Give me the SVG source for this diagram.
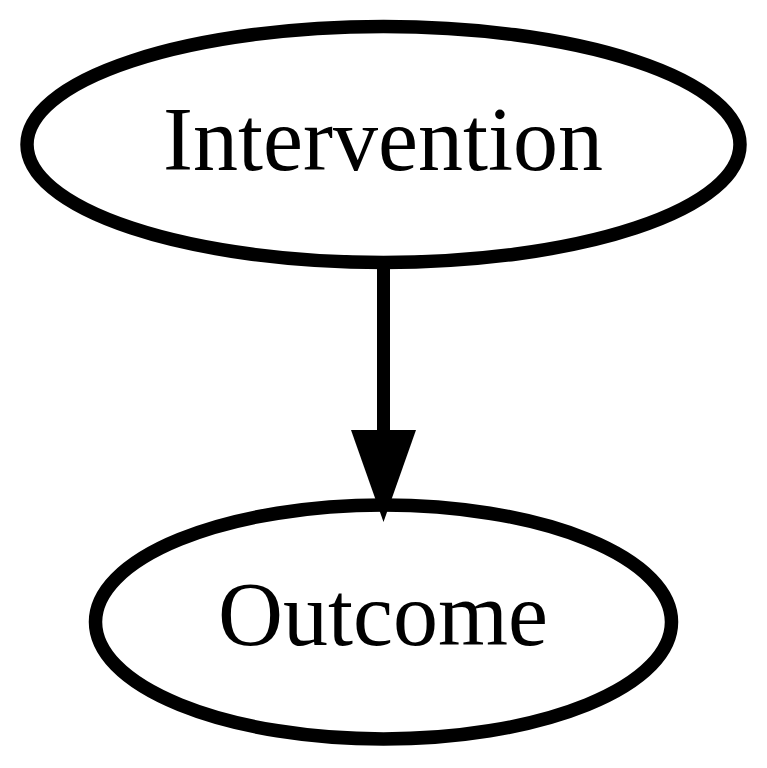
<svg xmlns="http://www.w3.org/2000/svg" width="767" height="768" viewBox="0 0 767 768">
<style>
.node ellipse{fill:none;stroke:#000;stroke-width:13.5}
.node text{font-family:"Liberation Serif","Times New Roman",serif;font-size:90px;text-anchor:middle;fill:#000}
.edge line{stroke:#000;stroke-width:13}
.edge polygon{fill:#000;stroke:none}
</style>
<rect width="767" height="768" fill="#fff"/>
<g id="edges" class="edge">
<line x1="383.5" y1="262" x2="383.5" y2="432"/>
<polygon points="351,430 416,430 383.5,522"/>
</g>
<g id="intervention" class="node">
<ellipse cx="383.5" cy="144.5" rx="356.5" ry="118"/>
<text x="383" y="170">Intervention</text>
</g>
<g id="outcome" class="node">
<ellipse cx="383.5" cy="622" rx="288" ry="117"/>
<text x="383" y="645">Outcome</text>
</g>
</svg>
